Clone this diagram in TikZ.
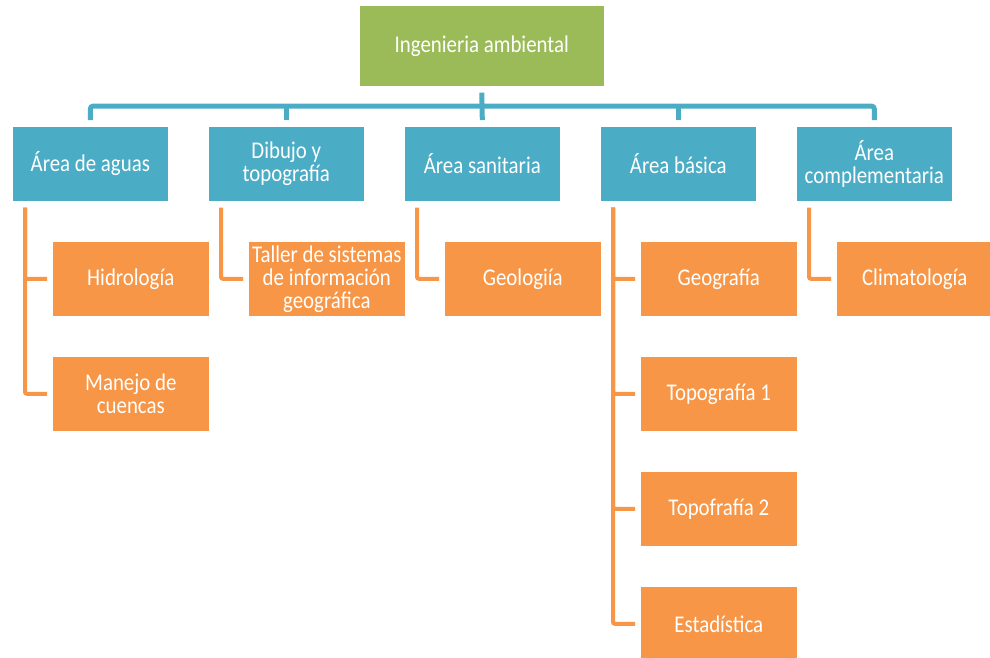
\documentclass[tikz,border=0pt]{standalone}
\usepackage{fontspec}
\setmainfont{Carlito}[FakeStretch=0.87]
\definecolor{grn}{HTML}{9BBB59}
\definecolor{blu}{HTML}{4BACC6}
\definecolor{org}{HTML}{F79646}
\begin{document}
\begin{tikzpicture}[x=1pt,y=-1pt,
  box/.style={draw=white, line width=0.6pt, text=white, align=center,
    font=\fontsize{24}{23}\selectfont, inner sep=0pt, anchor=north west,
    minimum width=156pt, minimum height=75pt},
  topbox/.style={box, fill=grn, minimum width=245pt, minimum height=81pt},
  areabox/.style={box, fill=blu},
  subbox/.style={box, fill=org, minimum width=157pt},
  bline/.style={draw=blu, line width=5pt, rounded corners=3pt},
  oline/.style={draw=org, line width=4pt, rounded corners=2pt}]
\useasboundingbox (0,0) rectangle (990,657);
\clip (0,0) rectangle (990,657);
% top
\node[topbox] (top) at (359,5) {Ingenieria ambiental};
% areas
\node[areabox] (b1) at (12,126) {Área de aguas};
\node[areabox] (b2) at (208,126) {Dibujo y\\topografía};
\node[areabox] (b3) at (404,126) {Área sanitaria};
\node[areabox] (b4) at (600,126) {Área básica};
\node[areabox] (b5) at (796,126) {Área\\complementaria};
% subjects
\node[subbox] (h1) at (52,241) {Hidrología};
\node[subbox] (h2) at (52,356) {Manejo de\\cuencas};
\node[subbox] (t1) at (248,241) {Taller de sistemas\\de información\\geográfica};
\node[subbox] (g1) at (444,241) {Geologiía};
\node[subbox] (a1) at (640,241) {Geografía};
\node[subbox] (a2) at (640,356) {Topografía 1};
\node[subbox] (a3) at (640,471) {Topofrafía 2};
\node[subbox] (a4) at (640,586) {Estadística};
\node[subbox] (c1) at (836,241) {Climatología};
% blue tree
\draw[bline] ([yshift=-6pt]top.south) -- ([yshift=6pt]b3.north);
\draw[bline] ([yshift=6pt]b1.north) -- ++(0,-14) -| ([yshift=6pt]b5.north);
\draw[bline] ([yshift=6pt]b2.north) -- ++(0,-14);
\draw[bline] ([yshift=6pt]b4.north) -- ++(0,-14);
% orange connectors
\draw[oline] ([xshift=13pt,yshift=-6pt]b1.south west) |- ([xshift=-5pt]h1.west);
\draw[oline] ([xshift=13pt,yshift=-6pt]b1.south west) |- ([xshift=-5pt]h2.west);
\draw[oline] ([xshift=13pt,yshift=-6pt]b2.south west) |- ([xshift=-5pt]t1.west);
\draw[oline] ([xshift=13pt,yshift=-6pt]b3.south west) |- ([xshift=-5pt]g1.west);
\draw[oline] ([xshift=13pt,yshift=-6pt]b4.south west) |- ([xshift=-5pt]a1.west);
\draw[oline] ([xshift=13pt,yshift=-6pt]b4.south west) |- ([xshift=-5pt]a2.west);
\draw[oline] ([xshift=13pt,yshift=-6pt]b4.south west) |- ([xshift=-5pt]a3.west);
\draw[oline] ([xshift=13pt,yshift=-6pt]b4.south west) |- ([xshift=-5pt]a4.west);
\draw[oline] ([xshift=13pt,yshift=-6pt]b5.south west) |- ([xshift=-5pt]c1.west);
\end{tikzpicture}
\end{document}
